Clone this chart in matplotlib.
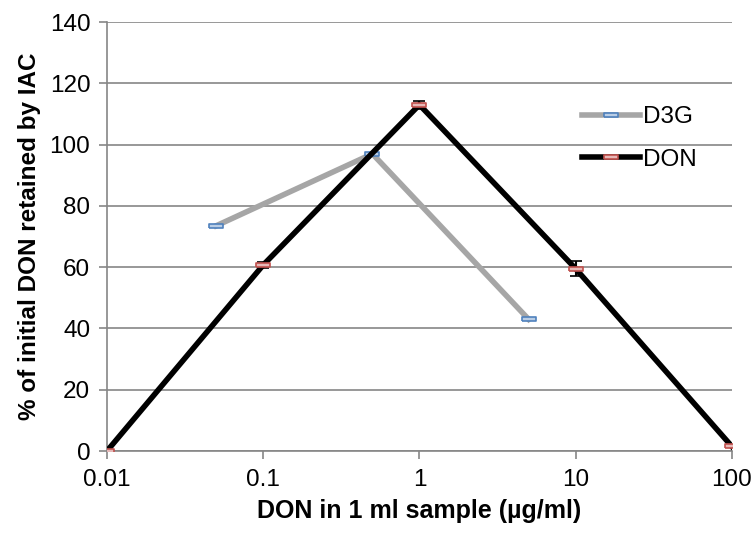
import numpy as np
import matplotlib
matplotlib.use('Agg')
import matplotlib.pyplot as plt
from matplotlib.lines import Line2D

plt.rcParams['font.family'] = ['Liberation Sans', 'DejaVu Sans']

# data
don_x = [0.01, 0.1, 1, 10, 100]
don_y = [0.0, 60.7, 113.0, 59.5, 1.5]
don_err = [0.3, 0.9, 1.3, 2.5, 0.3]

d3g_x = [0.05, 0.5, 5]
d3g_y = [73.5, 97.0, 43.0]

yticks = [0, 20, 40, 60, 80, 100, 120, 140]
xticks = [0.01, 0.1, 1, 10, 100]
xticklabels = ['0.01', '0.1', '1', '10', '100']

# Excel style "dash" marker
dash = [(-1, -0.35), (1, -0.35), (1, 0.35), (-1, 0.35), (-1, -0.35)]

d3g_style = dict(color='#A6A6A6', linewidth=4, marker=dash, markersize=10,
                 markerfacecolor='#B9CDE5', markeredgecolor='#4F81BD', markeredgewidth=1.2)
don_style = dict(color='black', linewidth=4, marker=dash, markersize=10,
                 markerfacecolor='#E6B9B8', markeredgecolor='#C0504D', markeredgewidth=1.2)

fig = plt.figure(figsize=(7.53, 5.37), dpi=100)
ax = fig.add_axes([0.142, 0.160, 0.830, 0.799])

ax.plot(d3g_x, d3g_y, zorder=3, **d3g_style)
ax.errorbar(don_x, don_y, yerr=don_err, ecolor='black', elinewidth=1.5,
            capsize=4, capthick=1.5, zorder=4, **don_style)

ax.set_xscale('log')
ax.set_xlim(0.01, 100)
ax.set_ylim(0, 140)
ax.set_xticks(xticks)
ax.set_xticklabels(xticklabels)
ax.xaxis.set_minor_locator(matplotlib.ticker.NullLocator())
ax.set_yticks(yticks)

ax.grid(axis='y', color='#868686', linewidth=1.2)
ax.set_axisbelow(True)
for s in ['top', 'right']:
    ax.spines[s].set_visible(False)
for s in ['left', 'bottom']:
    ax.spines[s].set_color('#868686')
    ax.spines[s].set_linewidth(1.2)
ax.tick_params(axis='both', colors='#868686', labelcolor='black', labelsize=17.5,
               length=6, width=1.2, direction='out')
ax.tick_params(axis='x', pad=7)
ax.tick_params(axis='y', pad=6)

ax.set_xlabel('DON in 1 ml sample (µg/ml)', fontsize=18, fontweight='bold', labelpad=6)
ax.set_ylabel('% of initial DON retained by IAC', fontsize=17.5, fontweight='bold', labelpad=6)

handles = [Line2D([], [], **d3g_style), Line2D([], [], **don_style)]
ax.legend(handles, ['D3G', 'DON'], loc='upper left', bbox_to_anchor=(0.725, 0.855),
          frameon=False, fontsize=17.5, handlelength=2.4, handletextpad=0.1,
          labelspacing=0.85)

fig.savefig('out.png', dpi=100)
